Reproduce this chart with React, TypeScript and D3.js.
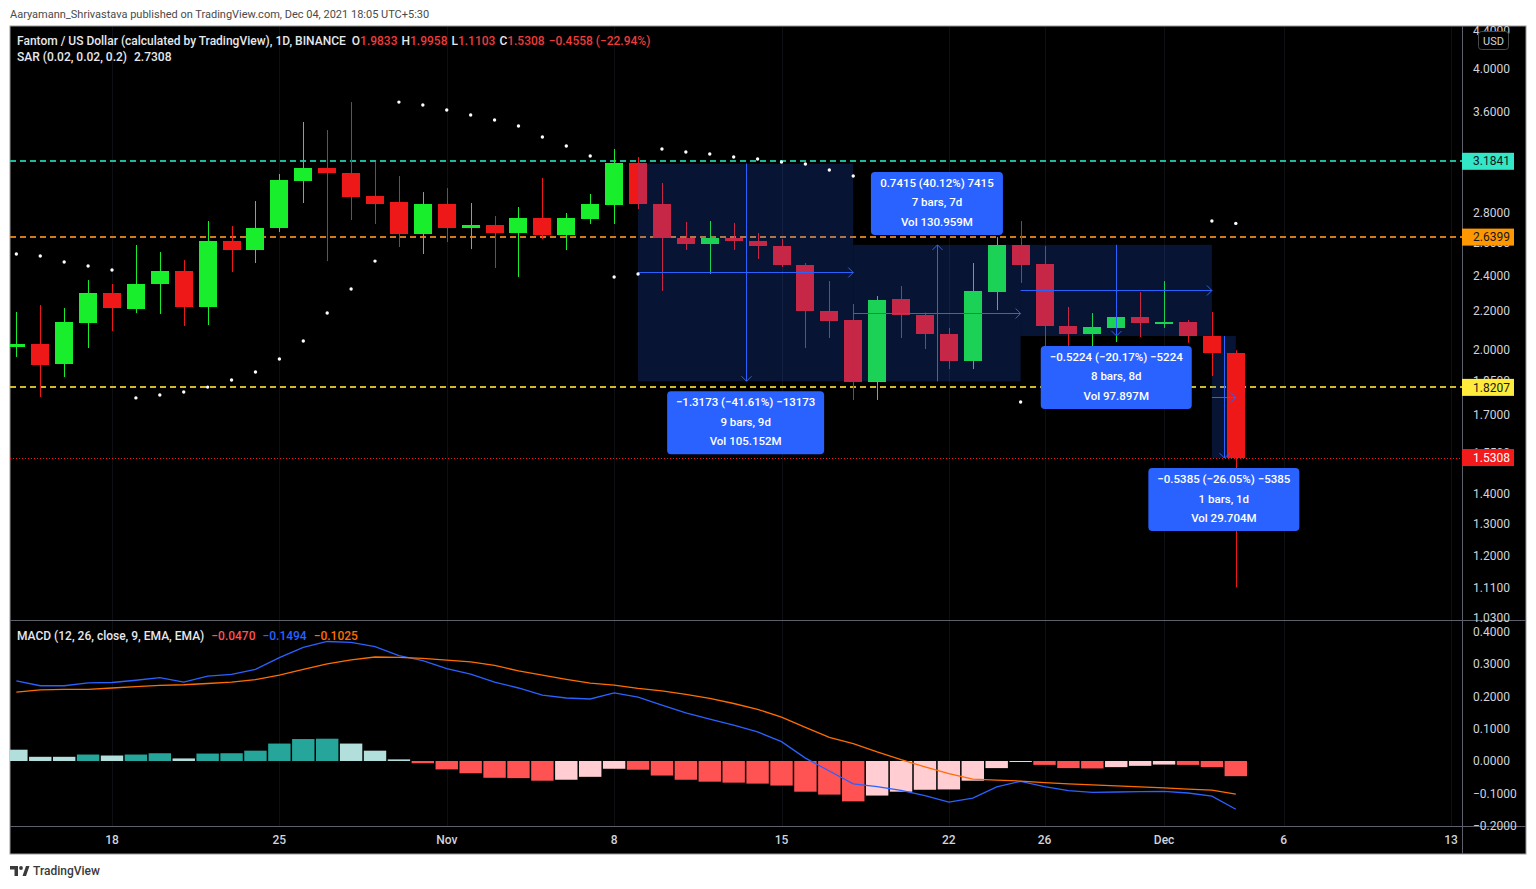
import React, { useMemo } from 'react';
import * as d3 from 'd3';

// ---------- DATA ----------
const firstDay = '2021-10-14';
const opens = [2.012, 2.027, 1.929, 2.135, 2.299, 2.210, 2.351, 2.428, 2.221, 2.614, 2.557, 2.700, 3.035, 3.135, 3.093, 2.922, 2.879, 2.660, 2.865, 2.700, 2.720, 2.667, 2.767, 2.654, 2.761, 2.858, 3.170, 2.865, 2.634, 2.595, 2.634, 2.614, 2.582, 2.464, 2.199, 2.151, 1.845, 2.265, 2.177, 2.078, 1.943, 2.305, 2.589, 2.470, 2.119, 2.078, 2.109, 2.167, 2.130, 2.140, 2.067, 1.9833];
const highs = [2.194, 2.232, 2.215, 2.374, 2.351, 2.589, 2.544, 2.494, 2.747, 2.713, 2.886, 3.086, 3.509, 3.440, 3.686, 3.179, 3.070, 2.951, 2.980, 2.872, 2.781, 2.844, 3.055, 2.802, 2.937, 3.282, 3.218, 3.018, 2.741, 2.747, 2.734, 2.667, 2.627, 2.476, 2.368, 2.237, 2.282, 2.339, 2.190, 2.109, 2.476, 2.640, 2.747, 2.582, 2.221, 2.188, 2.188, 2.305, 2.368, 2.151, 2.194, 1.9958];
const lows = [1.963, 1.778, 1.868, 2.007, 2.093, 2.188, 2.183, 2.119, 2.124, 2.422, 2.476, 2.673, 2.872, 2.488, 2.754, 2.727, 2.576, 2.532, 2.608, 2.563, 2.446, 2.392, 2.627, 2.557, 2.727, 2.727, 2.830, 2.311, 2.557, 2.410, 2.557, 2.501, 2.452, 2.007, 2.057, 1.765, 1.765, 2.057, 2.002, 1.905, 1.905, 2.204, 2.357, 2.012, 2.007, 2.007, 2.037, 2.062, 2.109, 2.033, 1.872, 1.1103];
const closes = [2.025, 1.924, 2.140, 2.299, 2.215, 2.351, 2.428, 2.221, 2.614, 2.557, 2.700, 3.040, 3.135, 3.093, 2.915, 2.865, 2.660, 2.865, 2.700, 2.720, 2.667, 2.767, 2.654, 2.767, 2.865, 3.170, 2.865, 2.634, 2.595, 2.634, 2.614, 2.582, 2.464, 2.199, 2.146, 1.845, 2.260, 2.177, 2.078, 1.943, 2.311, 2.589, 2.464, 2.119, 2.078, 2.114, 2.167, 2.135, 2.140, 2.067, 1.9833, 1.5308];
const sar = [2.532, 2.519, 2.482, 2.458, 2.434, 1.774, 1.787, 1.800, 1.822, 1.854, 1.891, 1.953, 2.042, 2.188, 2.322, 2.488, 3.686, 3.659, 3.614, 3.570, 3.526, 3.474, 3.381, 3.307, 3.226, 2.392, 2.410, 3.282, 3.258, 3.242, 3.218, 3.202, 3.179, 3.163, 3.116, 3.070, 3.020, 2.970, 2.920, 2.870, 2.820, 2.760, 1.756, 1.770, 1.790, 1.810, 1.830, 1.850, 1.870, 1.890, 2.747, 2.7308];
const macdLine = [0.248, 0.233, 0.233, 0.242, 0.243, 0.250, 0.258, 0.244, 0.263, 0.268, 0.284, 0.320, 0.352, 0.370, 0.367, 0.354, 0.326, 0.311, 0.286, 0.269, 0.244, 0.226, 0.204, 0.195, 0.192, 0.211, 0.198, 0.173, 0.149, 0.130, 0.111, 0.090, 0.060, 0.009, -0.031, -0.071, -0.079, -0.091, -0.107, -0.127, -0.115, -0.080, -0.063, -0.079, -0.092, -0.097, -0.096, -0.095, -0.094, -0.099, -0.109, -0.1494];
const signalLine = [0.213, 0.220, 0.222, 0.222, 0.226, 0.230, 0.234, 0.236, 0.240, 0.244, 0.252, 0.266, 0.284, 0.301, 0.313, 0.322, 0.321, 0.318, 0.312, 0.307, 0.296, 0.279, 0.266, 0.253, 0.241, 0.235, 0.225, 0.217, 0.206, 0.194, 0.178, 0.160, 0.136, 0.104, 0.073, 0.054, 0.028, 0.004, -0.018, -0.039, -0.056, -0.059, -0.062, -0.067, -0.071, -0.074, -0.077, -0.080, -0.083, -0.087, -0.090, -0.1025];
const histogram = [0.035, 0.013, 0.013, 0.020, 0.017, 0.020, 0.024, 0.008, 0.023, 0.024, 0.032, 0.054, 0.068, 0.069, 0.054, 0.032, 0.005, -0.007, -0.026, -0.038, -0.052, -0.053, -0.061, -0.058, -0.049, -0.024, -0.027, -0.045, -0.058, -0.064, -0.067, -0.070, -0.076, -0.095, -0.104, -0.125, -0.107, -0.095, -0.089, -0.088, -0.061, -0.022, -0.003, -0.012, -0.022, -0.023, -0.019, -0.015, -0.011, -0.012, -0.019, -0.047];

const priceTicks = [4.4, 4.0, 3.6, 3.2, 2.8, 2.6, 2.4, 2.2, 2.0, 1.85, 1.7, 1.55, 1.4, 1.3, 1.2, 1.11, 1.03];
const macdTicks = [0.4, 0.3, 0.2, 0.1, 0, -0.1, -0.2];
const timeTickDates = ['2021-10-18', '2021-10-25', '2021-11-01', '2021-11-08', '2021-11-15', '2021-11-22', '2021-11-26', '2021-12-01', '2021-12-06', '2021-12-13'];
const timeTickLabels = ['18', '25', 'Nov', '8', '15', '22', '26', 'Dec', '6', '13'];

const levelPrices = [3.1841, 2.6399, 1.8207];
const lastChange = -0.4558;
const lastChangePct = -22.94;

const rangeStarts = ['2021-11-09', '2021-11-18', '2021-11-25', '2021-12-03'];
const rangeEnds = ['2021-11-18', '2021-11-25', '2021-12-03', '2021-12-04'];
const rangeFromPrice = [3.1658, 1.8482, 2.5899, 2.0672];
const rangeToPrice = [1.8485, 2.5897, 2.0675, 1.5287];
const rangeLine1 = ['−1.3173 (−41.61%) −13173', '0.7415 (40.12%) 7415', '−0.5224 (−20.17%) −5224', '−0.5385 (−26.05%) −5385'];
const rangeLine2 = ['9 bars, 9d', '7 bars, 7d', '8 bars, 8d', '1 bars, 1d'];
const rangeLine3 = ['Vol 105.152M', 'Vol 130.959M', 'Vol 97.897M', 'Vol 29.704M'];

// ---------- STYLE ----------
const FONT = 'Roboto, "Liberation Sans", Arial, sans-serif';
const UP = '#18ee2c';
const DOWN = '#ef1818';
const LEVEL_BADGE = ['#32e6c8', '#ff9800', '#ffeb3b'];
const LEVEL_LINE = ['#1fb89a', '#d07a1c', '#cfb82a'];
const LAST_COLOR = '#f21a1a';
const AXIS_TEXT = '#d1d4dc';
const SEP = '#5d606b';
const RANGE_BLUE = '#2962ff';

const fmt = (v: number) => (v < 0 ? '−' : '') + Math.abs(v).toFixed(4);

export default function App() {
  const W = 1536, H = 889;
  const frame = { left: 10, top: 26, right: 1526, bottom: 854 };
  const paneRight = 1462;
  const pricePane = { top: 27, bottom: 620 };
  const macdPane = { top: 621, bottom: 826 };
  const axisTextX = 1473;

  const parse = d3.utcParse('%Y-%m-%d');
  const t0 = parse(firstDay) as Date;
  const dates = closes.map((_, i) => d3.utcDay.offset(t0, i));
  const x = d3.scaleUtc()
    .domain([parse('2021-10-18') as Date, parse('2021-12-13') as Date])
    .range([112, 1451]);
  const y = d3.scaleLog().domain([1.0244, 4.438]).range([pricePane.bottom, pricePane.top]);
  const ym = d3.scaleLinear().domain([-0.2012, 0.4334]).range([macdPane.bottom, macdPane.top]);
  const step = x(dates[1]) - x(dates[0]);
  const bodyW = Math.round(step * 0.76);

  const measure = useMemo(() => {
    const c = document.createElement('canvas').getContext('2d') as CanvasRenderingContext2D;
    return (s: string, font: string) => { c.font = font; return c.measureText(s).width; };
  }, []);

  const idx = d3.range(closes.length);
  const n = closes.length - 1;

  const macdPath = d3.line<number>().x(i => x(dates[i])).y(i => ym(macdLine[i]))(idx) || '';
  const sigPath = d3.line<number>().x(i => x(dates[i])).y(i => ym(signalLine[i]))(idx) || '';

  const histColor = (i: number) => {
    const h = histogram[i];
    const p = i > 0 ? histogram[i - 1] : Infinity;
    if (h >= 0) return p < h ? '#26a69a' : '#b2dfdb';
    return p > h ? '#ff5252' : '#ffcdd2';
  };

  const candles = idx.map(i => {
    const cx = x(dates[i]);
    const up = closes[i] >= opens[i];
    const col = up ? UP : DOWN;
    const yt = Math.round(y(Math.max(opens[i], closes[i])));
    const yb = Math.round(y(Math.min(opens[i], closes[i])));
    const wx = Math.round(cx) + 0.5;
    return (
      <g key={i}>
        <line x1={wx} x2={wx} y1={y(highs[i])} y2={y(lows[i])} stroke={col} strokeWidth={1} />
        <rect x={Math.round(cx - bodyW / 2)} y={yt} width={bodyW} height={Math.max(1, yb - yt)} fill={col} />
      </g>
    );
  });

  const labelFont = `500 11.5px ${FONT}`;
  const ranges = rangeStarts.map((s, k) => {
    const x0 = x(parse(s) as Date);
    const x1 = x(parse(rangeEnds[k]) as Date);
    const y0 = y(rangeFromPrice[k]);
    const y1 = y(rangeToPrice[k]);
    const down = rangeToPrice[k] < rangeFromPrice[k];
    const xm = (x0 + x1) / 2;
    const ymid = (y0 + y1) / 2;
    const lines = [rangeLine1[k], rangeLine2[k], rangeLine3[k]];
    const tw = Math.max(...lines.map(l => measure(l, labelFont)));
    const lw = Math.round(tw + 18);
    const lh = 63;
    const ly = down ? y1 + 10 : y1 - 10 - lh;
    return { k, x0, x1, y0, y1, down, xm, ymid, lines, lw, lh, ly };
  });

  const rangeFill = (r: any) => (
    <rect key={'rf' + r.k} x={r.x0} y={Math.min(r.y0, r.y1)} width={r.x1 - r.x0} height={Math.abs(r.y1 - r.y0)} fill="rgba(41,98,255,0.2)" />
  );

  const rangeLines = (r: any) => {
    const hy = Math.round(r.ymid) + 0.5;
    const vx = Math.round(r.xm) + 0.5;
    const a = 5;
    const vEnd = r.y1;
    const vArrow = r.down
      ? `M${vx - a},${vEnd - a}L${vx},${vEnd}L${vx + a},${vEnd - a}`
      : `M${vx - a},${vEnd + a}L${vx},${vEnd}L${vx + a},${vEnd + a}`;
    return (
      <g key={'rl' + r.k} stroke={RANGE_BLUE} strokeWidth={1} fill="none">
        <line x1={r.x0} x2={r.x1} y1={hy} y2={hy} />
        <path d={`M${r.x1 - a},${hy - a}L${r.x1},${hy}L${r.x1 - a},${hy + a}`} />
        <line x1={vx} x2={vx} y1={r.y0} y2={r.y1} />
        <path d={vArrow} />
      </g>
    );
  };

  const rangeLabel = (r: any) => (
    <g key={'lb' + r.k}>
      <rect x={r.xm - r.lw / 2} y={r.ly} width={r.lw} height={r.lh} rx={4} fill="#2962ff" />
      {r.lines.map((l: string, j: number) => (
        <text key={j} x={r.xm} y={r.ly + 11 + j * 19.5} dy="0.35em" textAnchor="middle" fill="#ffffff" fontSize={11.5} fontWeight={500} fontFamily={FONT}>{l}</text>
      ))}
    </g>
  );

  const badge = (v: number, bg: string, fg: string, key: string) => {
    const cy = y(v);
    return (
      <g key={key}>
        <rect x={paneRight} y={cy - 8.5} width={52} height={17} fill={bg} />
        <text x={axisTextX} y={cy} dy="0.35em" fill={fg} fontSize={12} fontFamily={FONT}>{v.toFixed(4)}</text>
      </g>
    );
  };

  const legendRed = '#ef3b3b';

  return (
    <svg width={W} height={H} style={{ position: 'absolute', left: 0, top: 0, display: 'block' }} fontFamily={FONT}>
      <defs>
        <clipPath id="cp-price"><rect x={frame.left} y={pricePane.top} width={paneRight - frame.left} height={pricePane.bottom - pricePane.top} /></clipPath>
        <clipPath id="cp-macd"><rect x={frame.left} y={macdPane.top} width={paneRight - frame.left} height={macdPane.bottom - macdPane.top} /></clipPath>
        <clipPath id="cp-axis"><rect x={paneRight} y={frame.top} width={frame.right - paneRight} height={frame.bottom - frame.top} /></clipPath>
      </defs>
      <rect x={0} y={0} width={W} height={H} fill="#ffffff" />
      <text x={10} y={14} dy="0.35em" fontSize={11} fill="#4a4a4a">Aaryamann_Shrivastava published on TradingView.com, Dec 04, 2021 18:05 UTC+5:30</text>

      <rect x={frame.left} y={frame.top} width={frame.right - frame.left} height={frame.bottom - frame.top} fill="#000000" stroke="#9a9a9a" strokeWidth={1} />

      {/* grid */}
      <g stroke="#0e0f13" strokeWidth={1}>
        {timeTickDates.map((d, i) => {
          const gx = Math.round(x(parse(d) as Date)) + 0.5;
          return <line key={'gv' + i} x1={gx} x2={gx} y1={pricePane.top} y2={macdPane.bottom} />;
        })}
      </g>

      {/* price pane */}
      <g clipPath="url(#cp-price)">
        {levelPrices.map((p, i) => (
          <path key={'lv' + i} d={`M${frame.left},${Math.round(y(p))}H${paneRight}`} fill="none" style={{ stroke: LEVEL_LINE[i], strokeWidth: 2, strokeDasharray: '6 4' }} />
        ))}
        <path d={`M${frame.left},${Math.round(y(closes[n])) + 0.5}H${paneRight}`} fill="none" style={{ stroke: LAST_COLOR, strokeWidth: 1, strokeDasharray: '1 2' }} />
        {ranges.slice(3).map(rangeFill)}
        {candles}
        {ranges.slice(0, 3).map(rangeFill)}
        {ranges.map(rangeLines)}
        {idx.map(i => <circle key={'s' + i} cx={x(dates[i])} cy={y(sar[i])} r={1.7} fill="#ffffff" />)}
        {ranges.map(rangeLabel)}
      </g>

      {/* macd pane */}
      <g clipPath="url(#cp-macd)">
        {idx.map(i => {
          const cx = x(dates[i]);
          const w = step - 1.5;
          const y0 = ym(0), y1 = ym(histogram[i]);
          return <rect key={'h' + i} x={cx - w / 2} y={Math.min(y0, y1)} width={w} height={Math.max(1, Math.abs(y1 - y0))} fill={histColor(i)} />;
        })}
        <path d={macdPath} fill="none" stroke="#2962ff" strokeWidth={1.3} />
        <path d={sigPath} fill="none" stroke="#ff6d00" strokeWidth={1.3} />
      </g>

      {/* separators */}
      <g stroke={SEP} strokeWidth={1}>
        <line x1={paneRight + 0.5} x2={paneRight + 0.5} y1={frame.top} y2={frame.bottom} />
        <line x1={frame.left} x2={frame.right} y1={macdPane.top - 0.5} y2={macdPane.top - 0.5} />
        <line x1={frame.left} x2={frame.right} y1={macdPane.bottom + 0.5} y2={macdPane.bottom + 0.5} />
      </g>

      {/* price axis */}
      <g clipPath="url(#cp-axis)">
        {priceTicks.map((p, i) => (
          <text key={'pt' + i} x={axisTextX} y={y(p)} dy="0.35em" fill={AXIS_TEXT} fontSize={12}>{fmt(p)}</text>
        ))}
        {badge(levelPrices[0], LEVEL_BADGE[0], '#131722', 'b0')}
        {badge(levelPrices[1], LEVEL_BADGE[1], '#131722', 'b1')}
        {badge(levelPrices[2], LEVEL_BADGE[2], '#131722', 'b2')}
        {badge(closes[n], LAST_COLOR, '#ffffff', 'b3')}
        <rect x={1478.5} y={31.5} width={30} height={18} rx={3} fill="#000" stroke="#4a4a4a" />
        <text x={1493.5} y={41} dy="0.35em" textAnchor="middle" fill={AXIS_TEXT} fontSize={11}>USD</text>
        {macdTicks.map((v, i) => (
          <text key={'mt' + i} x={axisTextX} y={ym(v)} dy="0.35em" fill={AXIS_TEXT} fontSize={12}>{fmt(v)}</text>
        ))}
      </g>

      {/* time axis */}
      {timeTickDates.map((d, i) => (
        <text key={'tt' + i} x={x(parse(d) as Date)} y={840} dy="0.35em" textAnchor="middle" fill={AXIS_TEXT} fontSize={12} fontWeight={500}>{timeTickLabels[i]}</text>
      ))}

      {/* legends */}
      <text x={17} y={41} dy="0.35em" fontSize={12} fontWeight={500} fill="#e6e8ee">
        <tspan>Fantom / US Dollar (calculated by TradingView), 1D, BINANCE</tspan>
        <tspan dx={6}>O</tspan><tspan fill={legendRed}>{opens[n].toFixed(4)}</tspan>
        <tspan dx={4}>H</tspan><tspan fill={legendRed}>{highs[n].toFixed(4)}</tspan>
        <tspan dx={4}>L</tspan><tspan fill={legendRed}>{lows[n].toFixed(4)}</tspan>
        <tspan dx={4}>C</tspan><tspan fill={legendRed}>{closes[n].toFixed(4)}</tspan>
        <tspan dx={4} fill={legendRed}>{`${fmt(lastChange)} (${lastChangePct < 0 ? '−' : ''}${Math.abs(lastChangePct).toFixed(2)}%)`}</tspan>
      </text>
      <text x={17} y={57} dy="0.35em" fontSize={12} fontWeight={500} fill="#e6e8ee">
        <tspan>SAR (0.02, 0.02, 0.2)</tspan>
        <tspan dx={7}>{sar[n].toFixed(4)}</tspan>
      </text>
      <text x={17} y={636} dy="0.35em" fontSize={12} fontWeight={500} fill="#e6e8ee">
        <tspan>MACD (12, 26, close, 9, EMA, EMA)</tspan>
        <tspan dx={7} fill="#ff5252">{fmt(histogram[n])}</tspan>
        <tspan dx={7} fill="#2962ff">{fmt(macdLine[n])}</tspan>
        <tspan dx={7} fill="#ff6d00">{fmt(signalLine[n])}</tspan>
      </text>

      {/* footer logo */}
      <g fill="#3a3a3a">
        <path d="M10,866 h8 v10 h-3.5 v-6.5 h-4.5 z" />
        <circle cx={21} cy={868} r={1.9} />
        <path d="M22.5,876 L26,866 L29.5,866 L26,876 z" />
      </g>
      <text x={33} y={871} dy="0.35em" fontSize={12} fill="#3a3a3a" fontWeight={500}>TradingView</text>
    </svg>
  );
}
